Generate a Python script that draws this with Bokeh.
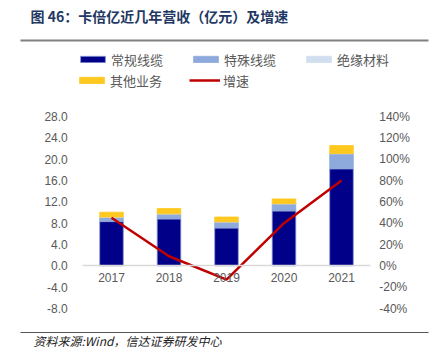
from bokeh.plotting import figure
from bokeh.models import (Range1d, LinearAxis, NumeralTickFormatter, FixedTicker,
                          Legend, LegendItem, Label, BoxAnnotation, ColumnDataSource)
from bokeh.embed import file_html
from bokeh.resources import INLINE

years = ["2017", "2018", "2019", "2020", "2021"]
conventional = [8.3, 8.8, 7.1, 10.3, 18.2]   # 常规线缆
special = [0.8, 0.9, 1.1, 1.3, 2.8]          # 特殊线缆
insulation = [0.05, 0.05, 0.05, 0.05, 0.05]  # 绝缘材料
other = [0.9, 1.0, 0.9, 0.9, 1.5]            # 其他业务
growth = [0.45, 0.09, -0.13, 0.40, 0.80]     # 增速
left_ticks = [-8, -4, 0, 4, 8, 12, 16, 20, 24, 28]
right_ticks = [-0.4, -0.2, 0, 0.2, 0.4, 0.6, 0.8, 1.0, 1.2, 1.4]

# ---- layout constants (pixels on the 433x354 canvas) ----
W, H = 433, 354
PL, PITCH = 82.25, 57.5          # plot-area left edge, category pitch
Y_TOP_PX, Y_BOT_PX = 116, 308    # pixel rows of 28 / -8
px_per_unit = (Y_BOT_PX - Y_TOP_PX) / (left_ticks[-1] - left_ticks[0])
pct_per_px = (right_ticks[-1] - right_ticks[0]) / (Y_BOT_PX - Y_TOP_PX)

xs = [i + 0.5 for i in range(len(years))]
src = ColumnDataSource(dict(x=xs, years=years, conventional=conventional, special=special,
                            insulation=insulation, other=other, growth=growth))

x_range = Range1d(-PL / PITCH, (W - PL) / PITCH)
y_range = Range1d(left_ticks[0] - (H - Y_BOT_PX) / px_per_unit,
                  left_ticks[-1] + Y_TOP_PX / px_per_unit)

p = figure(width=W, height=H, x_range=x_range, y_range=y_range,
           output_backend="svg", toolbar_location=None, title=None,
           min_border=0, min_border_left=0, min_border_right=0,
           min_border_top=0, min_border_bottom=0)
p.outline_line_color = None
p.xgrid.visible = False
p.ygrid.visible = False
p.background_fill_color = "white"
p.border_fill_color = "white"

colors = ["#000088", "#8EA9DB", "#D0DEEF", "#FFC81E"]
stack = ["conventional", "special", "insulation", "other"]
bars = p.vbar_stack(stack, x="x", width=0.41, source=src, color=colors,
                    line_color=["#8595d0", "#8EA9DB", "#D0DEEF", "#FFC81E"], line_width=0.8)

p.extra_y_ranges = {"pct": Range1d(right_ticks[0] - (H - Y_BOT_PX) * pct_per_px,
                                   right_ticks[-1] + Y_TOP_PX * pct_per_px)}
line = p.line(x="x", y="growth", source=src, y_range_name="pct",
              line_color="#C00000", line_width=2.5)

tick_font = "Liberation Sans"
n = len(years)

ya = p.yaxis[0]
ya.fixed_location = 0
ya.ticker = FixedTicker(ticks=left_ticks)
ya.formatter = NumeralTickFormatter(format="0.0")
ya.axis_line_color = None
ya.major_tick_line_color = None
ya.minor_tick_line_color = None
ya.major_label_text_font = tick_font
ya.major_label_text_font_size = "12px"
ya.major_label_text_color = "#595959"
ya.major_label_standoff = 9

ra = LinearAxis(y_range_name="pct", ticker=FixedTicker(ticks=right_ticks),
                formatter=NumeralTickFormatter(format="0%"), fixed_location=n)
ra.axis_line_color = None
ra.major_tick_line_color = None
ra.minor_tick_line_color = None
ra.major_label_text_font = tick_font
ra.major_label_text_font_size = "12px"
ra.major_label_text_color = "#595959"
ra.major_label_standoff = 3
p.add_layout(ra, "right")

xa = p.xaxis[0]
xa.fixed_location = 0
xa.bounds = (0, n)
xa.ticker = FixedTicker(ticks=xs)
xa.major_label_overrides = {x: y for x, y in zip(xs, years)}
xa.axis_line_color = "#D9D9D9"
xa.axis_line_width = 1.5
xa.major_tick_line_color = None
xa.minor_tick_line_color = None
xa.major_label_text_font = tick_font
xa.major_label_text_font_size = "12px"
xa.major_label_text_color = "#595959"
xa.major_label_standoff = 1

cjk = "Noto Sans CJK SC"
names = ["常规线缆", "特殊线缆", "绝缘材料", "其他业务", "增速"]
renderers = list(bars) + [line]


def make_legend(idx, x, vy):
    lg = Legend(items=[LegendItem(label=names[i], renderers=[renderers[i]]) for i in idx],
                orientation="horizontal", location=(x, vy), padding=0, margin=0,
                spacing=27, glyph_width=31, glyph_height=8, label_standoff=3,
                label_text_font=cjk, label_text_font_size="13px", label_text_color="#595959",
                border_line_color=None, background_fill_alpha=0)
    p.add_layout(lg, "center")


make_legend([0, 1, 2], 77, H - 68.5)
make_legend([3, 4], 76, H - 89.5)

title = Label(x=30, y=H - 15, x_units="screen", y_units="screen",
              text="图 46：卡倍亿近几年营收（亿元）及增速", text_font=cjk, text_font_style="bold",
              text_font_size="14px", text_color="#1F3864", text_baseline="middle", text_align="left")
p.add_layout(title)
footer = Label(x=33, y=H - 340, x_units="screen", y_units="screen",
               text="资料来源:Wind，信达证券研发中心", text_font=cjk, text_font_style="italic",
               text_font_size="12px", text_color="#222222", text_baseline="middle", text_align="left")
p.add_layout(footer)

top_rule = BoxAnnotation(left=20, right=428, bottom=H - 41, top=H - 39,
                         left_units="screen", right_units="screen", bottom_units="screen",
                         top_units="screen", fill_color="#808080", fill_alpha=1, line_color=None)
bot_rule = BoxAnnotation(left=20, right=428, bottom=H - 332.5, top=H - 331.5,
                         left_units="screen", right_units="screen", bottom_units="screen",
                         top_units="screen", fill_color="#555555", fill_alpha=1, line_color=None)
p.add_layout(top_rule)
p.add_layout(bot_rule)

open("out.html", "w").write(file_html(p, INLINE))
